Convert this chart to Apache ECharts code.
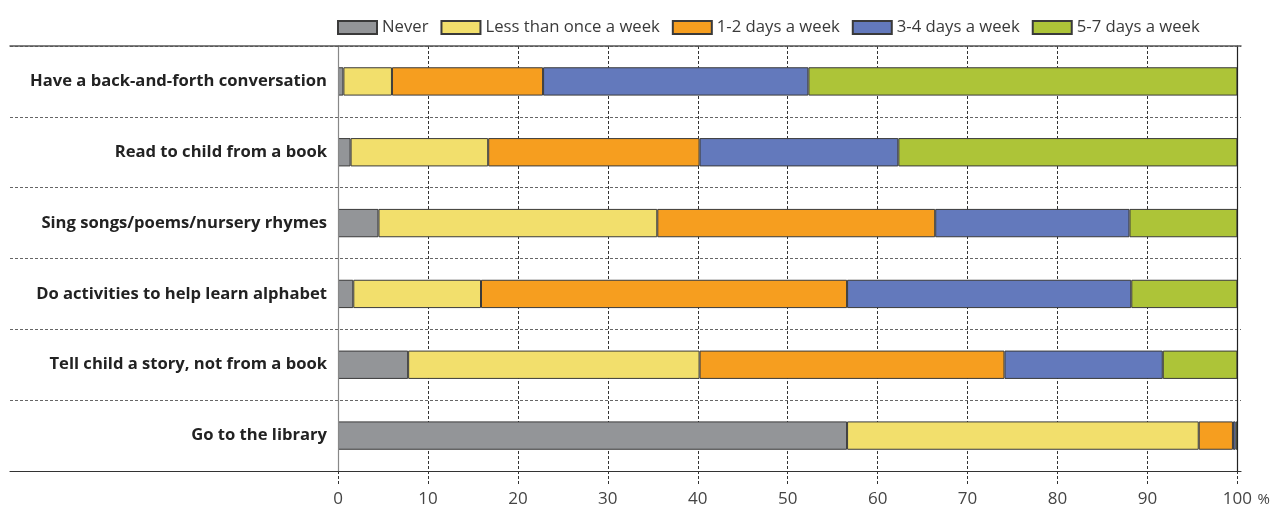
<!DOCTYPE html>
<html>
<head>
<meta charset="utf-8">
<script src="https://cdn.jsdelivr.net/npm/echarts@6/dist/echarts.min.js"></script>
<style>
  html, body { margin: 0; padding: 0; background: #fff; }
  #chart { width: 1273px; height: 509px; }
</style>
</head>
<body>
<div id="chart"></div>
<script>
// Activities, top to bottom
const categories = [
  'Have a back-and-forth conversation',
  'Read to child from a book',
  'Sing songs/poems/nursery rhymes',
  'Do activities to help learn alphabet',
  'Tell child a story, not from a book',
  'Go to the library'
];

// Share of respondents (%) per frequency, same order as categories
const never       = [0.6, 1.4, 4.5, 1.7, 7.8, 56.6];
const lessWeekly  = [5.4, 15.3, 31.0, 14.2, 32.4, 39.1];
const days12      = [16.8, 23.5, 30.9, 40.7, 33.9, 3.8];
const days34      = [29.5, 22.1, 21.6, 31.6, 17.6, 0.3];
const days57      = [47.7, 37.7, 12.0, 11.8, 8.3, 0.2];

const seriesNames = ['Never', 'Less than once a week', '1-2 days a week', '3-4 days a week', '5-7 days a week'];
const seriesColors = ['#939598', '#f2df6c', '#f69e1f', '#6379bc', '#adc438'];
const seriesValues = [never, lessWeekly, days12, days34, days57];

const xTicks = { min: 0, max: 100, interval: 10 };

const sans = "'Open Sans', 'Noto Sans', sans-serif";

const chart = echarts.init(document.getElementById('chart'), null, { renderer: 'canvas' });

const option = {
  animation: false,
  backgroundColor: '#ffffff',
  legend: {
    left: 332,
    top: 14,
    itemWidth: 39,
    itemHeight: 13,
    itemGap: 12,
    icon: 'rect',
    textStyle: { fontFamily: sans, fontSize: 16.7, color: '#3a3a3a' },
    data: seriesNames
  },
  grid: [
    // full-width frame: top/bottom rules and row separators
    { left: 10, right: 32, top: 46, height: 425 },
    // plotting area
    { left: 338, right: 32, top: 46, height: 425 }
  ],
  xAxis: [
    {
      gridIndex: 0, type: 'value', min: 0, max: 1, position: 'bottom', z: 5,
      axisLine: { show: true, lineStyle: { color: '#333', width: 1.2 } },
      axisTick: { show: false }, axisLabel: { show: false }, splitLine: { show: false }
    },
    {
      gridIndex: 0, type: 'value', min: 0, max: 1, position: 'top', z: 5,
      axisLine: { show: true, lineStyle: { color: '#555', width: 1.5 } },
      axisTick: { show: false }, axisLabel: { show: false }, splitLine: { show: false }
    },
    {
      gridIndex: 1, type: 'value', position: 'bottom',
      min: xTicks.min, max: xTicks.max, interval: xTicks.interval,
      axisLine: { show: false },
      axisTick: { show: true, length: 15, lineStyle: { color: '#333', type: [3, 2], width: 1 } },
      splitLine: { show: true, lineStyle: { color: '#333', type: [3, 2], width: 1 } },
      axisLabel: {
        margin: 20,
        fontFamily: sans,
        fontSize: 17,
        color: '#444',
        formatter: v => (v === 100 ? '{s|}100{p|%}' : String(v)),
        rich: {
          s: { width: 18 },
          p: { width: 18, align: 'right', fontFamily: sans, fontSize: 15, color: '#444' }
        }
      }
    }
  ],
  yAxis: [
    {
      gridIndex: 0, type: 'category', data: categories, inverse: true,
      axisLine: { show: false }, axisTick: { show: false }, axisLabel: { show: false },
      splitLine: { show: true, lineStyle: { color: '#666', type: [3, 2], width: 1 } }
    },
    {
      gridIndex: 1, type: 'category', data: categories, inverse: true, z: 4,
      axisLine: { show: true, lineStyle: { color: '#888', width: 1.2 } },
      axisTick: { show: false },
      axisLabel: {
        margin: 11,
        fontFamily: sans,
        fontWeight: 'bold',
        fontSize: 16.6,
        color: '#222',
        padding: [6, 0, 0, 0]
      }
    },
    {
      gridIndex: 1, type: 'category', data: categories, inverse: true, position: 'right', z: 4,
      axisLine: { show: true, lineStyle: { color: '#222', width: 1.2 } },
      axisTick: { show: false }, axisLabel: { show: false }
    }
  ],
  series: seriesNames.map((name, i) => ({
    name,
    type: 'bar',
    stack: 'total',
    xAxisIndex: 2,
    yAxisIndex: 1,
    barWidth: '40%',
    itemStyle: { color: seriesColors[i], borderColor: '#3a3a3a', borderWidth: 1 },
    data: seriesValues[i]
  }))
};

chart.setOption(option);
</script>
</body>
</html>
